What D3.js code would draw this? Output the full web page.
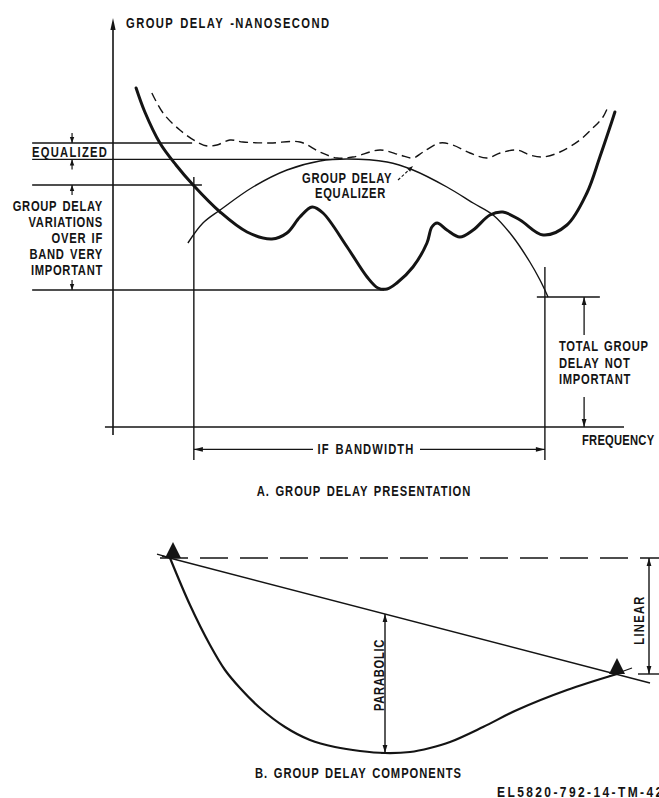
<!DOCTYPE html>
<html>
<head>
<meta charset="utf-8">
<script src="https://cdn.jsdelivr.net/npm/d3@7"></script>
<style>
  html, body { margin: 0; padding: 0; background: #fff; }
  svg { display: block; }
  text {
    font-family: "Liberation Sans", Arial, sans-serif;
    font-weight: bold;
    font-size: 14px;
    fill: #141414;
    letter-spacing: 0.9px;
    word-spacing: 2px;
  }
</style>
</head>
<body>
<script>
// ---------- Panel A: group delay presentation (frequency units, delay units) ----------
// Measured group delay across the IF band (heavy solid curve)
const measuredFreq  = [6.6, 9.1, 13.4, 18.0, 22.9, 30.6, 38.3, 45.4, 49.7, 53.4, 56.9, 60.0, 66.9, 72.6, 75.7, 78.3, 81.1,
                       85.7, 89.7, 91.1, 92.6, 95.4, 99.1, 102.9, 107.7, 111.4, 116.3, 122.9, 129.7, 135.4, 139.1, 142.0, 143.4];
const measuredDelay = [84.75, 78.75, 71, 65.5, 60.5, 53.75, 48.75, 47, 48.5, 52.5, 55, 53.5, 45, 37.5, 34.75, 34.5, 36,
                       40, 46, 50, 51, 49.25, 47.5, 49.25, 53, 53.75, 51.75, 48, 50.5, 58.5, 67.5, 75, 78.75];

// Equalized group delay (dashed curve)
const equalizedFreq  = [11.1, 14.3, 19.1, 24.0, 26.9, 29.7, 33.4, 37.1, 44.9, 53.4, 59.1, 64.0, 68.6, 76.3, 82.0,
                        85.7, 88.6, 93.4, 97.1, 102.0, 106.9, 110.6, 115.4, 119.1, 122.9, 127.7, 133.4, 137.1, 140.0, 141.4];
const equalizedDelay = [83.5, 78.5, 74.25, 71.25, 70.25, 70.5, 71.75, 71.25, 71, 71.25, 68.75, 67.25, 67.5, 69.25, 68,
                        67.25, 68.75, 71, 70.5, 68.5, 67.25, 68.5, 69.25, 68, 67.5, 68.75, 71.75, 74.75, 77.5, 80];

// Group delay equalizer response (thin arc)
const equalizerFreq  = [21.4, 25.7, 30.6, 40.0, 49.7, 59.1, 66.9, 78.3, 85.7, 95.4, 102.9, 108.6, 114.3, 119.1, 122.0, 124.3];
const equalizerDelay = [46, 51, 54.25, 60, 64.25, 66.5, 67, 66.25, 64.25, 60, 56, 53, 47.5, 41.25, 36.75, 32.5];

// IF band edges and annotated delay levels
const bandEdges       = [23.1, 123.4];
const equalizedRange  = [71, 66.9];
const variationRange  = [60.5, 34.25];
const edgeDelay       = 32.5;

// ---------- Panel B: group delay components ----------
const componentFreq  = [2.5, 7.5, 12.5, 16.25, 20, 25, 31.25, 37.5, 43.75, 50, 56.25, 62.5, 67.5, 72.5, 80.75, 89.25, 101.75, 114.25];
const componentDelay = [106, 82.5, 62.5, 50, 41, 31, 21.5, 15, 11.5, 9.5, 8.5, 9, 11, 14, 21.5, 30, 40, 48];
const linearFreq     = [0.5, 122.5];
const linearDelay    = [107, 43.5];
const referenceDelay = 106;
const markerFreq     = [3.25, 114.25];
const markerDelay    = [106, 48];
const parabolicAt    = 56.25;
const linearAt       = 122.25;

// ---------- drawing ----------
const W = 659, H = 798;
const svg = d3.select("body").append("svg").attr("width", W).attr("height", H);
const ink = "#141414";

// Panel A scales
const x = d3.scaleLinear().domain([0, 146]).range([113, 624]);
const y = d3.scaleLinear().domain([0, 102.25]).range([427, 18]);
// Panel B scales
const bx = d3.scaleLinear().domain([0, 125]).range([160, 660]);
const by = d3.scaleLinear().domain([0, 110]).range([770, 550]);

function seg(g, x1, y1, x2, y2, w = 1.3, dash = null) {
  const l = g.append("line").attr("x1", x1).attr("y1", y1).attr("x2", x2).attr("y2", y2)
    .attr("stroke", ink).attr("stroke-width", w);
  if (dash) l.attr("stroke-dasharray", dash);
  return l;
}
function head(g, tx, ty, fx, fy, len = 8, half = 2.4) {
  const dx = tx - fx, dy = ty - fy, d = Math.hypot(dx, dy) || 1;
  const ux = dx / d, uy = dy / d;
  const bxp = tx - ux * len, byp = ty - uy * len;
  g.append("path")
    .attr("d", `M${tx},${ty}L${bxp - uy * half},${byp + ux * half}L${bxp + uy * half},${byp - ux * half}Z`)
    .attr("fill", ink);
}
function arrow(g, x1, y1, x2, y2, both = false, w = 1.3, len = 8, half = 2.4) {
  seg(g, x1, y1, x2, y2, w);
  head(g, x2, y2, x1, y1, len, half);
  if (both) head(g, x1, y1, x2, y2, len, half);
}
// Condensed lettering: tall caps, narrow glyphs
function label(g, px, py, t, anchor = "start", rot = 0) {
  return g.append("text")
    .attr("transform", `translate(${px},${py}) rotate(${rot}) scale(0.8,1)`)
    .attr("text-anchor", anchor).text(t);
}

const A = svg.append("g");

// Axes
seg(A, x(0), y(-2), x(0), y(100.5), 1.6);
head(A, x(0), y(102.25), x(0), y(90), 12, 2.6);
seg(A, x(-2.3), y(0), x(146), y(0), 1.6);

// Band-edge verticals
seg(A, x(bandEdges[0]), y(62.5), x(bandEdges[0]), y(-8.25), 1.4);
seg(A, x(bandEdges[1]), y(40), x(bandEdges[1]), y(-8.25), 1.4);

// Delay-level reference lines
const leftEdge = -23.1;
seg(A, x(leftEdge), y(equalizedRange[0]), x(22.6), y(equalizedRange[0]), 1.4);
seg(A, x(leftEdge), y(equalizedRange[1]), x(65), y(equalizedRange[1]), 1.4);
seg(A, x(leftEdge), y(variationRange[0]), x(25.4), y(variationRange[0]), 1.4);
seg(A, x(leftEdge), y(variationRange[1]), x(77.5), y(variationRange[1]), 1.4);
seg(A, x(121.1), y(edgeDelay), x(139.1), y(edgeDelay), 1.4);

// Small level arrows on the left
const ax = x(-11.7);
arrow(A, ax, y(equalizedRange[0]) - 10, ax, y(equalizedRange[0]), false, 1.2, 6, 2.2);
arrow(A, ax, y(equalizedRange[1]) + 10, ax, y(equalizedRange[1]), false, 1.2, 6, 2.2);
arrow(A, ax, y(variationRange[0]) + 10, ax, y(variationRange[0]), false, 1.2, 6, 2.2);
arrow(A, ax, y(variationRange[1]) - 10, ax, y(variationRange[1]), false, 1.2, 6, 2.2);

// Total delay arrows on the right
const rx = x(134.6);
arrow(A, rx, y(edgeDelay) + 38, rx, y(edgeDelay), false, 1.3, 8, 2.4);
arrow(A, rx, y(0) - 30, rx, y(0), false, 1.3, 8, 2.4);

// IF bandwidth dimension
const bwY = y(-5.6);
arrow(A, 313, bwY, x(bandEdges[0]), bwY, false, 1.3, 9, 2.4);
arrow(A, 420, bwY, x(bandEdges[1]), bwY, false, 1.3, 9, 2.4);

// Curves
const lineA = d3.line().x(d => x(d[0])).y(d => y(d[1])).curve(d3.curveCatmullRom.alpha(0.5));
A.append("path").datum(d3.zip(equalizerFreq, equalizerDelay)).attr("d", lineA)
  .attr("fill", "none").attr("stroke", ink).attr("stroke-width", 1.4);
A.append("path").datum(d3.zip(equalizedFreq, equalizedDelay)).attr("d", lineA)
  .attr("fill", "none").attr("stroke", ink).attr("stroke-width", 1.4).attr("stroke-dasharray", "9,5");
A.append("path").datum(d3.zip(measuredFreq, measuredDelay)).attr("d", lineA)
  .attr("fill", "none").attr("stroke", ink).attr("stroke-width", 3).attr("stroke-linecap", "round");

// Equalizer leader
seg(A, 398, 180, 410, 169, 1.1, "3,2");
head(A, 413, 166, 398, 180, 6, 2.2);

// Panel A labels
label(A, 126, 28, "GROUP DELAY -NANOSECOND").style("letter-spacing", "1.8px");
label(A, 32, 157, "EQUALIZED").style("letter-spacing", "1.6px");
["GROUP DELAY", "VARIATIONS", "OVER IF", "BAND VERY", "IMPORTANT"].forEach((t, i) =>
  label(A, 103, 211 + i * 16, t, "end"));
label(A, 302, 183, "GROUP DELAY");
label(A, 315, 198, "EQUALIZER");
["TOTAL GROUP", "DELAY NOT", "IMPORTANT"].forEach((t, i) => label(A, 559, 351 + i * 16.5, t));
label(A, 582, 445, "FREQUENCY").style("letter-spacing", "0.3px");
label(A, 366, 454, "IF BANDWIDTH", "middle").style("letter-spacing", "1.4px");
label(A, 364, 496, "A. GROUP DELAY PRESENTATION", "middle").style("letter-spacing", "1.2px");

// ---------- Panel B ----------
const B = svg.append("g");
seg(B, bx(0), by(referenceDelay), bx(125), by(referenceDelay), 1.4, "28,12");
seg(B, bx(linearFreq[0]), by(linearDelay[0]), bx(linearFreq[1]), by(linearDelay[1]), 1.5);

const lineB = d3.line().x(d => bx(d[0])).y(d => by(d[1])).curve(d3.curveCatmullRom.alpha(0.5));
B.append("path").datum(d3.zip(componentFreq, componentDelay)).attr("d", lineB)
  .attr("fill", "none").attr("stroke", ink).attr("stroke-width", 2.2);

// Reference markers
markerFreq.forEach((f, i) => {
  const mx = bx(f), my = by(markerDelay[i]);
  B.append("path").attr("d", `M${mx},${my - 16}L${mx + 8},${my}L${mx - 8},${my}Z`).attr("fill", ink);
});
seg(B, bx(markerFreq[0]) - 16, by(markerDelay[0]) - 4, bx(markerFreq[0]) - 2, by(markerDelay[0]), 1.3);
seg(B, bx(markerFreq[1]) - 10, by(markerDelay[1]) + 3, bx(markerFreq[1]) + 15, by(markerDelay[1]) - 6, 1.3);

// Parabolic component dimension
const slope = (linearDelay[1] - linearDelay[0]) / (linearFreq[1] - linearFreq[0]);
const parTop = linearDelay[0] + (parabolicAt - linearFreq[0]) * slope;
const parBottom = d3.min(componentDelay);
arrow(B, bx(parabolicAt), by(parBottom), bx(parabolicAt), by(parTop), true, 1.4, 8, 2.4);
seg(B, bx(parabolicAt) - 4, by(parBottom), bx(parabolicAt) + 4, by(parBottom), 1.4);

// Linear component dimension
arrow(B, bx(linearAt), by(markerDelay[1]), bx(linearAt), by(referenceDelay), true, 1.4, 8, 2.4);
seg(B, bx(linearAt) - 11, by(markerDelay[1]), bx(125), by(markerDelay[1]), 1.4);

label(B, bx(parabolicAt) - 5, 675, "PARABOLIC", "middle", -90).attr("dominant-baseline", "central");
label(B, bx(linearAt) - 9, 620, "LINEAR", "middle", -90).attr("dominant-baseline", "central").style("letter-spacing", "1.6px");
label(B, 255, 778, "B. GROUP DELAY COMPONENTS").style("letter-spacing", "1.2px");
label(B, 497, 797, "EL5820-792-14-TM-42").style("font-size", "15px").style("letter-spacing", "3px");
</script>
</body>
</html>
